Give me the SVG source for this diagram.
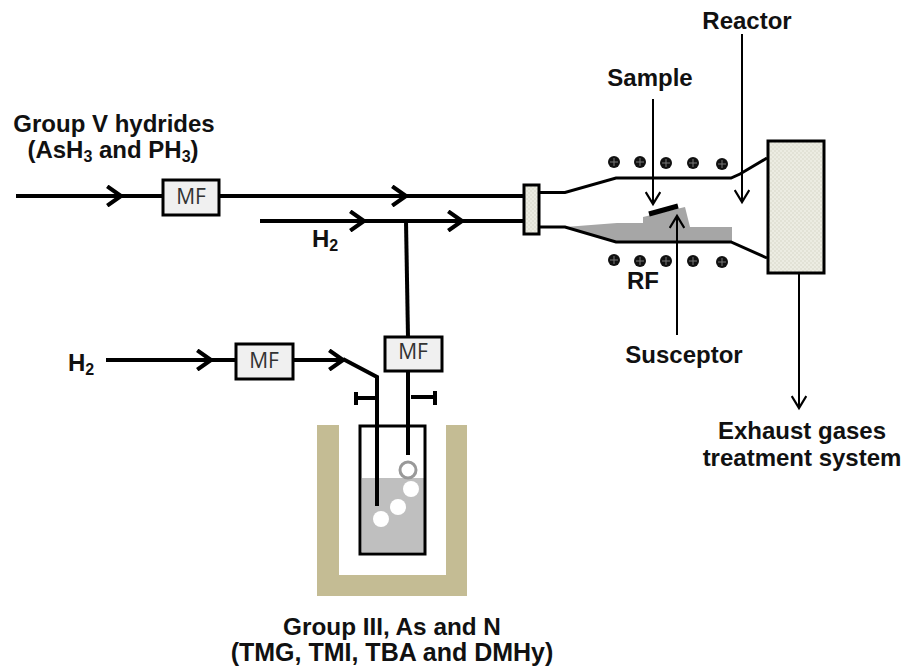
<svg xmlns="http://www.w3.org/2000/svg" width="903" height="668" viewBox="0 0 903 668">
<defs>
<marker id="open" markerUnits="userSpaceOnUse" markerWidth="22" markerHeight="22" refX="13" refY="8" orient="auto" viewBox="0 0 16 16"><path d="M3 1L13 8L3 15" fill="none" stroke="#000" stroke-width="3"/></marker>
<marker id="thin" markerUnits="userSpaceOnUse" markerWidth="16" markerHeight="16" refX="10" refY="6" orient="auto" viewBox="0 0 12 12"><path d="M1 .5L10 6L1 11.5" fill="none" stroke="#000" stroke-width="1.7"/></marker>
<pattern id="check" width="4" height="4" patternUnits="userSpaceOnUse"><rect width="4" height="4" fill="#ecece2"/><rect width="2" height="2" fill="#e2e2d6"/><rect x="2" y="2" width="2" height="2" fill="#e2e2d6"/></pattern>
<g id="coil"><circle r="6" fill="#111"/><path d="M-4 0H4M0 -4V4" stroke="#777" stroke-width="1"/></g>
</defs>
<style>
text{font-family:"Liberation Sans",Arial,sans-serif;fill:#111;text-anchor:middle}
.b{font-size:24px;font-weight:700}
.sub{font-size:16px}
.mf{font-family:"Open Sans","Liberation Sans",sans-serif;font-size:21px;fill:#333}
.mfb{fill:#f0f0f0;stroke:#000;stroke-width:3}
.pipe{fill:none;stroke:#000;stroke-width:4}
.tube{fill:none;stroke:#000;stroke-width:3}
.thin{fill:none;stroke:#000;stroke-width:2}
.hatch{fill:url(#check);stroke:#000;stroke-width:3}
</style>
<rect width="903" height="668" fill="#fff"/>
<g id="bath"><path d="M317 425H339V575H446V425H467V596H317Z" fill="#c4bc94"/></g>
<g id="bubbler">
<path d="M362 478H424V552H362Z" fill="#bfbfbf"/>
<rect x="360" y="426" width="65" height="128" fill="none" stroke="#000" stroke-width="3"/>
<circle cx="381" cy="519" r="8" fill="#fff"/><circle cx="398" cy="507" r="8" fill="#fff"/><circle cx="411" cy="489" r="8" fill="#fff"/>
<circle cx="408" cy="470" r="8" fill="#fff" stroke="#999" stroke-width="3"/>
</g>
<g id="susceptor"><path d="M565 227L617 223H643V217L685 207L690 227H732V242H615Z" fill="#a6a6a6"/><path d="M649 214L678 206" stroke="#000" stroke-width="5" fill="none"/></g>
<g id="connectors">
<path class="pipe" d="M16 196H121" marker-end="url(#open)"/>
<path class="pipe" d="M121 196H162"/>
<path class="pipe" d="M219 196H406" marker-end="url(#open)"/>
<path class="pipe" d="M406 196H524"/>
<path class="pipe" d="M260 221H364" marker-end="url(#open)"/>
<path class="pipe" d="M364 221H462" marker-end="url(#open)"/>
<path class="pipe" d="M462 221H524"/>
<path class="pipe" d="M406 221L408 337"/>
<path class="pipe" d="M106 360H211" marker-end="url(#open)"/>
<path class="pipe" d="M211 360H236"/>
<path class="pipe" d="M294 360H343" marker-end="url(#open)"/>
<path class="pipe" d="M343 359L377 377V506"/>
<path class="pipe" d="M408 372V455"/>
<path class="pipe" d="M355 398H379M356 392V405"/>
<path class="pipe" d="M411 397H435M435 391V405"/>
<path class="tube" d="M539 192.500H565L616 178H731L740 174L767 158"/>
<path class="tube" d="M539 227H565L616 242H731L767 258"/>
<path class="thin" d="M653 99V204" marker-end="url(#thin)"/>
<path class="thin" d="M742 34V202" marker-end="url(#thin)"/>
<path class="thin" d="M677 335V216" marker-end="url(#thin)"/>
<path class="thin" d="M799 271V408" marker-end="url(#thin)"/>
</g>
<g id="coils">
<use href="#coil" x="614" y="162"/><use href="#coil" x="640" y="162"/><use href="#coil" x="666" y="163"/><use href="#coil" x="693" y="163"/><use href="#coil" x="722" y="164"/>
<use href="#coil" x="614" y="260"/><use href="#coil" x="640" y="261"/><use href="#coil" x="666" y="261"/><use href="#coil" x="693" y="261"/><use href="#coil" x="722" y="262"/>
</g>
<g id="flange"><rect class="hatch" x="524" y="185" width="15" height="49"/></g>
<g id="exhaust-box"><rect class="hatch" x="768" y="141" width="56" height="132"/></g>
<g id="mf1"><rect class="mfb" x="163" y="180" width="56" height="35"/><text class="mf" x="191" y="204">MF</text></g>
<g id="mf2"><rect class="mfb" x="236" y="344" width="57" height="35"/><text class="mf" x="264" y="368">MF</text></g>
<g id="mf3"><rect class="mfb" x="385" y="337" width="57" height="34"/><text class="mf" x="413" y="359">MF</text></g>
<g id="labels">
<text class="b" x="114" y="132">Group V hydrides</text>
<text class="b" x="113" y="158">(AsH<tspan class="sub" dy="4">3</tspan><tspan dy="-4"> and PH</tspan><tspan class="sub" dy="4">3</tspan><tspan dy="-4">)</tspan></text>
<text class="b" x="325" y="247">H<tspan class="sub" dy="4">2</tspan></text>
<text class="b" x="81" y="371">H<tspan class="sub" dy="4">2</tspan></text>
<text class="b" x="650" y="86">Sample</text>
<text class="b" x="747" y="29">Reactor</text>
<text class="b" x="643" y="289">RF</text>
<text class="b" x="684" y="363">Susceptor</text>
<text class="b" x="802" y="439">Exhaust gases</text>
<text class="b" x="802" y="466">treatment system</text>
<text class="b" x="392" y="635" style="font-size:24.300px">Group III, As and N</text>
<text class="b" x="392" y="661" style="font-size:25px">(TMG, TMI, TBA and DMHy)</text>
</g>
</svg>
